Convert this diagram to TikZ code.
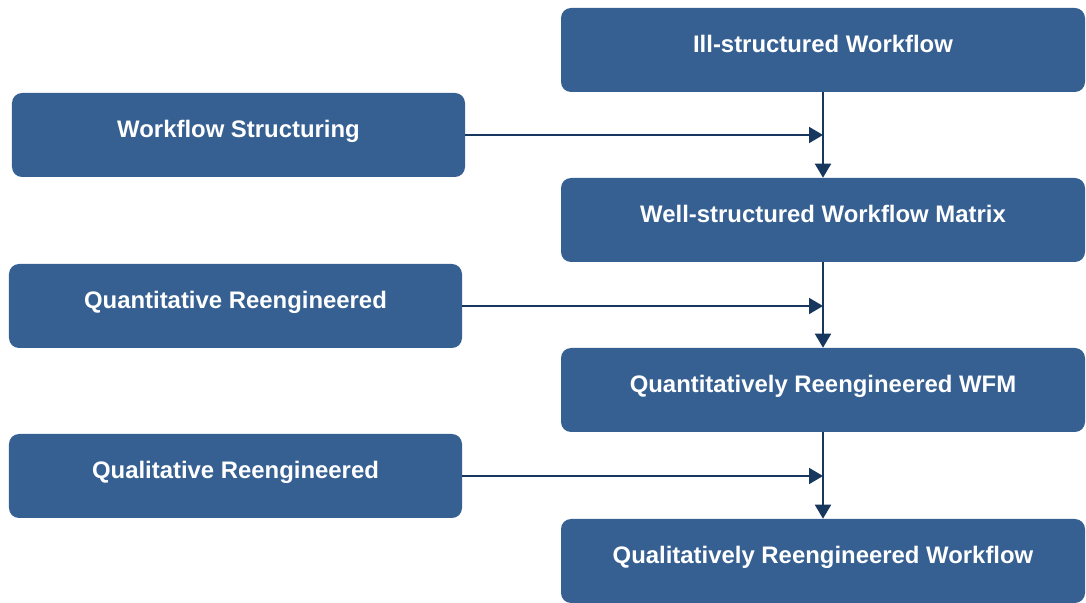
\documentclass[tikz,border=0pt]{standalone}
\usepackage{fontspec}
\setmainfont{Liberation Sans}
\usetikzlibrary{positioning,arrows.meta}
\definecolor{boxblue}{RGB}{54,96,146}
\definecolor{linknavy}{RGB}{23,55,94}

\begin{document}
\begin{tikzpicture}[>={Triangle[length=0.35cm, width=0.4cm]}]
    \tikzset{
        stage/.style={rectangle, rounded corners=0.25cm, fill=boxblue, draw=none,
            text=white, font=\bfseries\fontsize{17}{20}\selectfont,
            minimum width=13.1cm, minimum height=2.1cm, text height=0.42cm, text depth=0.3cm},
        method/.style={stage, minimum width=11.325cm},
        link/.style={->, line width=1.4pt, draw=linknavy}
    }
    \useasboundingbox (0,0) rectangle (27.15,-15.075);

    % Right column: workflow states
    \node[stage] (ill)   at (20.575, -1.25)   {Ill-structured Workflow};
    \node[stage] (well)  at (20.575, -5.5)    {Well-structured Workflow Matrix};
    \node[stage] (quant) at (20.575, -9.75)   {Quantitatively Reengineered WFM};
    \node[stage] (qual)  at (20.575, -14.025) {Qualitatively Reengineered Workflow};

    % Left column: operations
    \node[method] (struct)  at (5.9625, -3.375) {Workflow Structuring};
    \node[method] (quantre) at (5.8875, -7.65)  {Quantitative Reengineered};
    \node[method] (qualre)  at (5.8875, -11.9)  {Qualitative Reengineered};

    % Flow down the right column
    \draw[link] (ill.south) -- (well.north);
    \draw[link] (well.south) -- (quant.north);
    \draw[link] (quant.south) -- (qual.north);

    % Operations feeding into the flow
    \draw[link] (struct.east) -- (struct.east -| ill.south);
    \draw[link] (quantre.east) -- (quantre.east -| well.south);
    \draw[link] (qualre.east) -- (qualre.east -| quant.south);
\end{tikzpicture}
\end{document}
